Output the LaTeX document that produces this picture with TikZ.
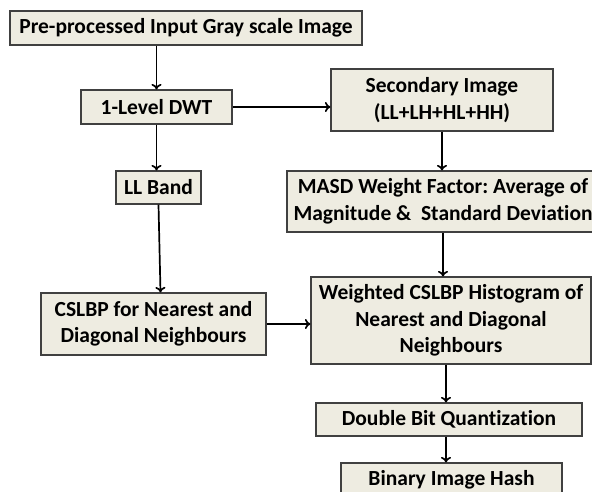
\documentclass[tikz,border=0pt]{standalone}
\usepackage{fontspec}
\setmainfont{Carlito}[Ligatures=NoCommon]
\usetikzlibrary{arrows.meta}
\definecolor{boxfill}{HTML}{EEECE1}
\definecolor{boxline}{HTML}{404040}
\frenchspacing
\tikzset{
  blk/.style={draw=boxline, line width=1.2pt, fill=boxfill, align=center, inner sep=0pt,
    font=\fontsize{21.5}{26.5}\selectfont\bfseries, text=black},
  arr/.style={draw=black, line width=1.7pt, -{To[length=5.5pt,width=10pt]}}
}
\begin{document}
\begin{tikzpicture}[x=1pt,y=-1pt]
\useasboundingbox (0,0) rectangle (592,492);
\clip (0,0) rectangle (592,492);
\fill[white] (0,0) rectangle (592,492);
\node[blk, minimum width=352pt, minimum height=34pt] (top) at (186,28) {Pre-processed Input Gray scale Image};
\node[blk, minimum width=151pt, minimum height=34pt] (dwt) at (156.5,107) {1-Level DWT};
\node[blk, minimum width=222pt, minimum height=62pt] (sec) at (442,100) {Secondary Image\\(LL+LH+HL+HH)};
\node[blk, minimum width=85pt, minimum height=33pt] (ll) at (158.5,187.5) {LL Band};
\node[blk, minimum width=312pt, minimum height=61pt] (masd) at (443,201.5) {MASD Weight Factor: Average of\\Magnitude \&\ \ Standard Deviation};
\node[blk, minimum width=225pt, minimum height=62pt] (csl) at (153.5,324) {CSLBP for Nearest and\\Diagonal Neighbours};
\node[blk, minimum width=280pt, minimum height=87pt] (wh) at (451,320.5) {Weighted CSLBP Histogram of\\Nearest and Diagonal\\Neighbours};
\node[blk, minimum width=266pt, minimum height=33pt] (dbq) at (449,419.5) {Double Bit Quantization};
\node[blk, minimum width=221pt, minimum height=33pt] (bin) at (451.5,479.5) {Binary Image Hash};
\coordinate (cx) at (446,0);
\draw[arr] (top.south -| dwt.center) -- (dwt.north);
\draw[arr] (dwt.east) -- (dwt.east -| sec.west);
\draw[arr] (dwt.south) -- (dwt.south |- ll.north);
\draw[arr] (ll.south) -- ([xshift=2pt]ll.south |- csl.north);
\draw[arr] (sec.south) -- (sec.south |- masd.north);
\draw[arr] (masd.south) -- (masd.south |- wh.north);
\draw[arr] (csl.east) -- (csl.east -| wh.west);
\draw[arr] (wh.south -| cx) -- (dbq.north -| cx);
\draw[arr] (dbq.south -| cx) -- (bin.north -| cx);
\end{tikzpicture}
\end{document}
